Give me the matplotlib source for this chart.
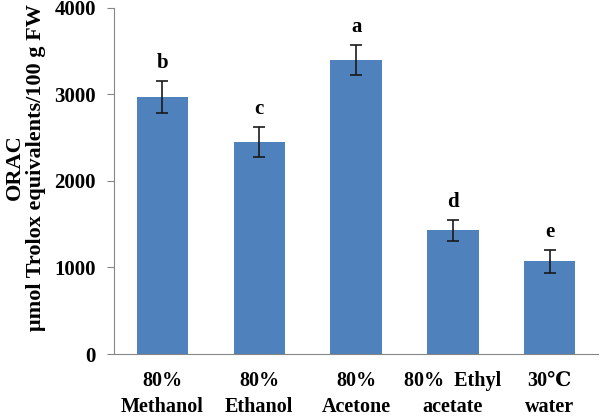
import matplotlib
matplotlib.use('Agg')
import matplotlib.pyplot as plt
import numpy as np

plt.rcParams['font.family'] = ['Liberation Serif', 'DejaVu Serif']
plt.rcParams['font.weight'] = 'bold'

solvents = ['80%\nMethanol', '80%\nEthanol', '80%\nAcetone', '80%  Ethyl\nacetate', '30\u2103\nwater']
orac = [2970, 2450, 3400, 1430, 1070]
err = [185, 175, 170, 120, 128]
letters = ['b', 'c', 'a', 'd', 'e']

fig = plt.figure(figsize=(6, 4.16), dpi=100)
ax = fig.add_axes([0.19, 0.149, 0.807, 0.832])

x = np.arange(len(solvents))
ax.bar(x, orac, width=0.53, color='#4F81BD')
ax.errorbar(x, orac, yerr=err, fmt='none', ecolor='#1a1a1a', elinewidth=1.2,
            capsize=4, capthick=1.2)

for xi, v, e, l in zip(x, orac, err, letters):
    ax.annotate(l, (xi, v + e), xytext=(0, 6), textcoords='offset points',
                ha='center', va='bottom', fontsize=15, fontweight='bold')

ax.set_xlim(-0.5, 4.5)
ax.set_ylim(0, 4000)
ax.set_yticks([0, 1000, 2000, 3000, 4000])
ax.set_xticks(x)
ax.set_xticklabels(solvents, fontsize=14.5, fontweight='bold', linespacing=1.4)
ax.tick_params(axis='y', labelsize=15, length=5, color='#868686', pad=8)
ax.tick_params(axis='x', length=0, pad=12)
for lab in ax.get_yticklabels():
    lab.set_fontweight('bold')

for s in ['top', 'right']:
    ax.spines[s].set_visible(False)
for s in ['left', 'bottom']:
    ax.spines[s].set_color('#868686')

ax.set_ylabel('ORAC\n\u03bcmol Trolox equivalents/100 g FW', fontsize=16,
              fontweight='bold', linespacing=1.1)
ax.yaxis.set_label_coords(-0.14, 0.54)

plt.savefig('out.png', dpi=100)
